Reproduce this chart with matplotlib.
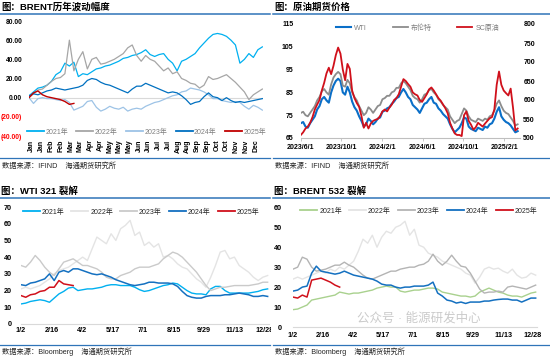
import numpy as np
import pandas as pd
import matplotlib
matplotlib.use("Agg")
import matplotlib.pyplot as plt
from matplotlib.lines import Line2D
from matplotlib.patches import Rectangle

plt.rcParams['font.family'] = ['Liberation Sans', 'Noto Sans CJK SC']
plt.rcParams['axes.unicode_minus'] = False

# ---------------- data ----------------
# Panel 1: BRENT yearly change (weekly points, day of year)
p1_days = list(range(0, 365, 7))
p1_2021 = [2, 6, 10, 11, 13, 17, 24, 27, 36, 33, 37, 22, 25, 24, 27, 30, 31, 33, 34, 36,
           38, 41, 42, 44, 45, 47, 50, 45, 43, 45, 46, 40, 36, 28, 38, 40, 43, 46, 52, 57,
           62, 66, 67, 66, 64, 60, 55, 36, 40, 46, 42, 50, 53]
p1_2022 = [0, 4, 8, 9, 13, 17, 20, 21, 25, 60, 28, 40, 48, 30, 40, 42, 35, 36, 38, 40,
           43, 46, 52, 55, 44, 38, 44, 40, 38, 33, 28, 31, 25, 27, 20, 18, 15, 14, 10, 13,
           22, 19, 20, 22, 24, 20, 16, 11, 6, -2, 3, 6, 9]
p1_2023 = [0, -6, -1, 0, -1, -1, -2, -3, -2, -5, -13, -11, -9, -4, -3, -10, -14, -12, -9, -11,
           -12, -10, -14, -12, -11, -12, -9, -7, -5, -4, -2, 0, 2, 3, 6, 7, 10, 9, 8, 6,
           3, -1, -1, -3, -4, -5, -4, -5, -9, -12, -8, -10, -13]
p1_2024 = [2, 4, 3, 5, 7, 8, 10, 9, 8, 9, 10, 11, 13, 18, 20, 19, 16, 14, 13, 11,
           9, 7, 5, 9, 12, 12, 15, 13, 11, 9, 7, 5, 6, 5, 2, -2, -7, -5, -4, 1,
           5, 1, 0, -3, 0, -3, -5, -4, -5, -4, -3, -2, -1]
p1_2025_days = list(range(0, 71, 7))
p1_2025 = [0, 5, 7, 3, 1, 0, -1, -2, -4, -7, -6]
p1_years = ['2021年', '2022年', '2023年', '2024年', '2025年']
p1_month_labels = ['Jan', 'Jan', 'Feb', 'Feb', 'Mar', 'Mar', 'Apr', 'Apr', 'May', 'May', 'May',
                   'Jun', 'Jun', 'Jul', 'Jul', 'Aug', 'Aug', 'Sep', 'Sep', 'Oct', 'Oct',
                   'Nov', 'Nov', 'Dec']
p1_yticks = [-40, -20, 0, 20, 40, 60, 80]
p1_ylabels = ['(40.00)', '(20.00)', '0.00', '20.00', '40.00', '60.00', '80.00']

# Panel 2: crude futures prices (weekly)
p2_dates = pd.date_range('2023-06-01', periods=94, freq='7D')
p2_wti = [71.5, 72, 70, 69.5, 71.5, 73, 74.5, 77.5, 79, 82,
          83, 81.5, 80.5, 85, 88, 90, 91, 90, 85, 84,
          87.5, 85, 81, 78.5, 77, 74.5, 72.5, 70, 71, 73.5,
          72.5, 71, 72, 73.5, 74, 76.5, 77, 78, 78.5, 80,
          81, 82.5, 83, 85, 86.5, 85, 83, 82, 79.5, 78.5,
          77.5, 76, 78, 80, 80.5, 82, 83, 80.5, 80, 78,
          77, 75.5, 74.5, 73.5, 71, 69, 67.5, 68.5, 69.5, 71.5,
          74, 73.5, 70, 69, 68.5, 68, 69.5, 69, 68.5, 70,
          69.5, 71, 71.5, 73.5, 76.5, 78.5, 74.5, 73, 72, 71.5,
          70.5, 69, 67.5, 68]
p2_brent = [76, 76.5, 75, 74.5, 76, 77.5, 79, 81.5, 83, 85.5,
            86.5, 85, 84, 88.5, 91.5, 93, 94, 93, 88, 87.5,
            90.5, 89, 85, 83, 81.5, 79, 77, 75, 76, 78.5,
            77.5, 76, 77.5, 79, 79.5, 82, 82.5, 83.5, 83.5, 85,
            85.5, 87, 87, 89, 90, 89, 87.5, 86, 83.5, 82.5,
            82, 80.5, 82, 84, 84.5, 86, 86.5, 85, 84, 82,
            81, 79.5, 78.5, 77.5, 74.5, 73, 71.5, 72.5, 73, 75.5,
            78, 77, 74.5, 73, 72.5, 72, 73.5, 73, 72.5, 73.5,
            73, 74.5, 75, 77, 80, 81.5, 79, 77, 76, 75.5,
            74, 72.5, 70.5, 71]
p2_sc = [508, 515, 525, 530, 540, 555, 575, 588, 600, 625,
         645, 670, 685, 668, 690, 718, 738, 722, 680, 652,
         695, 682, 625, 605, 592, 582, 558, 527, 540, 525,
         538, 545, 548, 550, 558, 570, 575, 570, 580, 588,
         600, 605, 615, 635, 655, 650, 642, 635, 620, 615,
         612, 600, 595, 605, 615, 628, 633, 625, 615, 605,
         598, 588, 578, 565, 540, 525, 512, 508, 508, 505,
         560, 570, 545, 535, 522, 528, 540, 535, 530, 538,
         545, 552, 555, 575, 640, 675, 640, 625, 618, 612,
         630, 580, 520, 525]
p2_tick_dates = ['2023-06-01', '2023-10-01', '2024-02-01', '2024-06-01', '2024-10-01', '2025-02-01']
p2_tick_labels = ['2023/6/1', '2023/10/1', '2024/2/1', '2024/6/1', '2024/10/1', '2025/2/1']
p2_names = ['WTI', '布伦特', 'SC原油']

# Panel 3: WTI 321 crack (weekly, day from 1/2)
p3_days = list(range(0, 365, 7))
p3_2021 = [12, 12.5, 13.5, 14, 14.5, 14, 13, 15.5, 18, 19.5, 21.5, 22, 20, 20.5, 21, 21, 21.5, 22, 23, 23.5,
           23.5, 23, 23, 23, 22, 20.5, 19.5, 20, 21, 22, 23, 23.5, 24.5, 24, 22, 20, 18.5, 18, 18, 17.5,
           21, 22.5, 22.5, 20, 18.5, 18.5, 18.5, 18.5, 18.5, 19, 19.5, 20.5, 21]
p3_2022 = [21, 22, 21, 22, 23, 25, 27, 30, 32, 33, 34, 36, 38, 40, 38, 45, 52, 50, 48, 54,
           50, 57, 59, 62, 53, 55, 47, 49, 46, 48, 40, 41, 39, 36, 34, 33, 30, 27, 25, 22,
           28, 35, 43, 44, 39, 40, 35, 33, 31, 28, 26, 28, 29]
p3_2023 = [35, 34, 37, 41, 38, 34, 31, 29, 33, 37, 38, 39, 37, 35, 35, 34, 33, 31, 28, 27,
           27, 29, 30, 31, 33, 34, 34, 34, 35, 36, 39, 41, 43, 42, 40, 37, 34, 31, 27, 23,
           20, 21, 22, 22, 22.5, 23, 23, 23, 23, 23.5, 24, 25, 25]
p3_2024 = [23.5, 23, 24.5, 25, 26, 27, 30, 26, 31, 32, 31, 33, 33, 32, 31, 30, 29.5, 30, 29, 28,
           26.5, 25.5, 24.5, 23.5, 23, 23.5, 24, 25, 25, 24.5, 24.5, 24.5, 24, 22.5, 19.5, 17, 16, 15.5, 15.5, 16.5,
           17, 17, 17, 17.5, 17.5, 18, 18.5, 18, 17.5, 16.5, 16.5, 17, 16.5]
p3_2025_days = list(range(0, 78, 7))
p3_2025 = [17, 16, 17.5, 18, 19.5, 20, 22, 22, 26, 24, 23.5, 23]

# Panel 4: BRENT 532 crack
p4_days = list(range(0, 365, 7))
p4_2021 = [8.7, 9, 10, 11, 13.5, 14, 14.5, 15, 15.5, 16, 17.5, 17, 16.5, 17, 17, 17.5, 18, 18.5, 19.5, 20,
           20.5, 20, 20, 18, 17.5, 18, 18.5, 18.5, 19, 19.5, 19.5, 19, 17.5, 17, 16.5, 16, 15.5, 15.5, 15, 15.5,
           17.5, 18.5, 19.5, 18.5, 17.5, 17, 16, 15.5, 15.5, 15, 16, 17, 17.5]
p4_2022 = [24, 25, 24, 25, 26, 27, 28, 27, 29, 28, 30, 29, 31, 33, 38, 44, 42, 46, 40, 45,
           48, 47, 50, 51, 53, 46, 49, 41, 40, 37, 36, 35, 33, 32, 31, 30, 29, 27, 26, 22,
           25, 29, 30, 29, 29.5, 28, 27, 29, 26, 24.5, 25, 27, 26]
p4_2023 = [29, 30, 35, 34, 30, 28, 28.5, 29, 30, 31, 31, 32.5, 31, 30, 28, 26, 24.5, 24, 25, 26,
           27, 28, 28, 29, 29.5, 30, 30, 31, 31.5, 33, 36.5, 33, 31, 33, 36, 33, 30.5, 30, 27, 23,
           19, 17, 17.5, 17.5, 18, 17.5, 20, 20.5, 20, 19.5, 19, 20, 21]
p4_2024 = [18, 18.5, 20, 20.5, 27, 30.5, 28, 27.5, 27, 26.5, 27, 28, 27, 26, 25.5, 25, 24.5, 24, 23, 21.5,
           21, 21, 20, 19.5, 20, 20, 20.5, 20.5, 20.5, 21, 22.5, 17, 15.5, 13.5, 13, 12, 12.5, 11.8, 12.5, 12.5,
           12.5, 13, 13, 13.5, 13.8, 14, 14, 13.5, 13.5, 12.5, 13.5, 14.5, 14.5]
p4_2025_days = list(range(0, 71, 7))
p4_2025 = [15, 14.5, 16, 15, 23.5, 24, 24.5, 23.5, 22.5, 21, 20]

crack_ticks = [0, 45, 90, 135, 180, 225, 270, 315, 360]
crack_labels = ['1/2', '2/16', '4/2', '5/17', '7/1', '8/15', '9/29', '11/13', '12/28']

# ---------------- layout ----------------
W, H = 550, 358
fig = plt.figure(figsize=(W / 100, H / 100), dpi=100)
fig.patch.set_facecolor('white')

def ax_at(l, r, t, b):
    return fig.add_axes([l / W, 1 - b / H, (r - l) / W, (b - t) / H])

def fy(y):
    return 1 - y / H

TITLE_BLUE = '#2F74B8'

def header(x0, x1, ytitle, yline, title):
    fig.text((x0 + 1) / W, fy(ytitle), title, fontsize=6.8, fontweight='bold',
             color='#000000', va='center', ha='left')
    fig.add_artist(Line2D([x0 / W, x1 / W], [fy(yline), fy(yline)], color=TITLE_BLUE,
                          lw=1.1, transform=fig.transFigure))

def footer(x0, x1, yline, ytext, text):
    fig.add_artist(Line2D([x0 / W, x1 / W], [fy(yline), fy(yline)], color=TITLE_BLUE,
                          lw=0.9, transform=fig.transFigure))
    fig.text((x0 + 2) / W, fy(ytext), text, fontsize=5.2, color='#262626',
             va='center', ha='left')

header(0, 270, 7.3, 13.5, '图：BRENT历年波动幅度')
header(273, 550, 7.3, 13.5, '图：原油期货价格')
header(0, 270, 191.3, 198, '图：WTI 321 裂解')
header(273, 550, 191.3, 198, '图：BRENT 532 裂解')
footer(0, 270, 158.5, 166, '数据来源：IFIND    海通期货研究所')
footer(273, 550, 158.5, 166, '数据来源：IFIND    海通期货研究所')
footer(0, 270, 344.7, 351.5, '数据来源：Bloomberg    海通期货研究所')
footer(273, 550, 344.7, 351.5, '数据来源：Bloomberg    海通期货研究所')

def clean(ax):
    for s in ax.spines.values():
        s.set_visible(False)

# ---------------- panel 1 ----------------
ax1 = ax_at(29, 263, 21, 136)
clean(ax1)
ax1.axhline(0, color='#D9D9D9', lw=0.8, zorder=0)
c1 = ['#00B0F0', '#A6A6A6', '#9DC3E6', '#0070C0', '#C00000']
series1 = [p1_2021, p1_2022, p1_2023, p1_2024]
for vals, col, lab in zip(series1, c1[:4], p1_years[:4]):
    ax1.plot(p1_days, vals, color=col, lw=0.9, label=lab)
ax1.plot(p1_2025_days, p1_2025, color=c1[4], lw=1.0, label=p1_years[4])
ax1.set_xlim(0, 365)
ax1.set_ylim(-40, 80)
ax1.set_yticks(p1_yticks)
ax1.set_yticklabels(p1_ylabels)
for lbl, v in zip(ax1.get_yticklabels(), p1_yticks):
    lbl.set_color('#FF0000' if v < 0 else '#000000')
    lbl.set_fontweight('bold')
ax1.set_xticks(np.linspace(4.2, 354, len(p1_month_labels)))
ax1.set_xticklabels(p1_month_labels, rotation=90, va='top', ha='center',
                    fontsize=5, fontweight='bold', color='#000000')
ax1.tick_params(axis='y', length=0, pad=4.8, labelsize=4.8)
ax1.tick_params(axis='x', length=0, pad=2.5)
leg1 = ax1.legend(ncol=5, loc='center', bbox_to_anchor=(0.502, 0.035), frameon=False,
                  fontsize=5, handlelength=2.45, handletextpad=0.2, columnspacing=1.2,
                  borderpad=0, borderaxespad=0)
for t in leg1.get_texts():
    t.set_color('#7F7F7F')
for l in leg1.get_lines():
    l.set_linewidth(1.3)

# ---------------- panel 2 ----------------
ax2 = ax_at(300.5, 520, 24, 138)
clean(ax2)
ax2.spines['bottom'].set_visible(True)
ax2.spines['bottom'].set_color('#BFBFBF')
ax2.spines['bottom'].set_linewidth(0.8)
l_wti, = ax2.plot(p2_dates, p2_wti, color='#0A6FC8', lw=1.5, label=p2_names[0])
l_br, = ax2.plot(p2_dates, p2_brent, color='#8C8C8C', lw=1.3, label=p2_names[1])
ax2.set_ylim(65, 115)
ax2.set_yticks(range(65, 116, 10))
ax2.set_xlim(pd.Timestamp('2023-05-31'), pd.Timestamp('2025-03-20'))
ax2.set_xticks(pd.to_datetime(p2_tick_dates))
ax2.set_xticklabels(p2_tick_labels)
ax2.tick_params(axis='y', length=0, pad=5, labelsize=5)
ax2.tick_params(axis='x', length=2.5, width=0.6, color='#BFBFBF', pad=1.5, labelsize=5)
ax2b = ax2.twinx()
clean(ax2b)
l_sc, = ax2b.plot(p2_dates, p2_sc, color='#D0101B', lw=1.3, label=p2_names[2])
ax2b.set_ylim(500, 800)
ax2b.set_yticks(range(500, 801, 50))
ax2b.tick_params(axis='y', length=0, pad=2.4, labelsize=5)
ax2b.set_xlim(pd.Timestamp('2023-05-31'), pd.Timestamp('2025-03-20'))
for a in (ax2, ax2b):
    for lbl in a.get_xticklabels() + a.get_yticklabels():
        lbl.set_fontweight('bold')
        lbl.set_color('#000000')
leg2 = ax2b.legend(handles=[l_wti, l_br, l_sc], ncol=3, loc='center',
                   bbox_to_anchor=(0.533, 0.965), frameon=False, fontsize=5,
                   handlelength=2.16, handletextpad=0.43, columnspacing=3.7,
                   borderpad=0, borderaxespad=0)
for t in leg2.get_texts():
    t.set_color('#7F7F7F')

# ---------------- panels 3 & 4 ----------------
def crack_panel(ax, days, vals_list, d25, v25, colors, lws, ylim, yticks, legx, legy, ypad, xpad):
    clean(ax)
    ax.spines['bottom'].set_visible(True)
    ax.spines['bottom'].set_color('#D9D9D9')
    ax.spines['bottom'].set_linewidth(0.8)
    for vals, col, lw, lab in zip(vals_list, colors[:4], lws, p1_years[:4]):
        ax.plot(days, vals, color=col, lw=lw, label=lab)
    ax.plot(d25, v25, color=colors[4], lw=1.1, label=p1_years[4])
    ax.set_xlim(0, 366)
    ax.set_ylim(*ylim)
    ax.set_yticks(yticks)
    ax.set_xticks(crack_ticks)
    ax.set_xticklabels(crack_labels)
    ax.tick_params(axis='y', length=0, pad=ypad, labelsize=5.2)
    ax.tick_params(axis='x', length=0, pad=xpad, labelsize=5.2)
    for lbl in ax.get_xticklabels() + ax.get_yticklabels():
        lbl.set_fontweight('bold')
        lbl.set_color('#000000')
    leg = ax.legend(ncol=5, loc='center', bbox_to_anchor=(legx, legy), frameon=False,
                    fontsize=5, handlelength=2.45, handletextpad=0.25, columnspacing=1.05,
                    borderpad=0, borderaxespad=0)
    for t in leg.get_texts():
        t.set_color('#262626')
    for l in leg.get_lines():
        l.set_linewidth(1.3)
    return ax

ax3 = ax_at(21, 269, 207, 324)
crack_panel(ax3, p3_days, [p3_2021, p3_2022, p3_2023, p3_2024], p3_2025_days, p3_2025,
            ['#00B0F0', '#E4E4E4', '#CACACA', '#1470C0', '#D0101B'],
            [1.0, 1.0, 1.0, 1.1], (0, 70), range(0, 71, 10), 0.484, 0.957, 6.5, 2.5)
clip_rect = Rectangle((0, 0), 271 / W, 1, transform=fig.transFigure)
for lbl in ax3.get_xticklabels():
    lbl.set_clip_path(clip_rect)
    lbl.set_clip_on(True)

ax4 = ax_at(293, 537, 207.3, 327)
crack_panel(ax4, p4_days, [p4_2021, p4_2022, p4_2023, p4_2024], p4_2025_days, p4_2025,
            ['#A9D18E', '#E4E4E4', '#B4B4B4', '#1470C0', '#D0101B'],
            [1.0, 1.0, 1.0, 1.1], (0, 60), range(0, 61, 10), 0.516, 0.969, 8, 3.6)

# watermark (kept just above the axis so it does not sit on the tick labels)
fig.text(357 / W, fy(318), '公众号 · 能源研发中心', fontsize=9, color='#8C8C8C',
         alpha=0.45, va='center', ha='left')

fig.savefig('out.png', dpi=100)
